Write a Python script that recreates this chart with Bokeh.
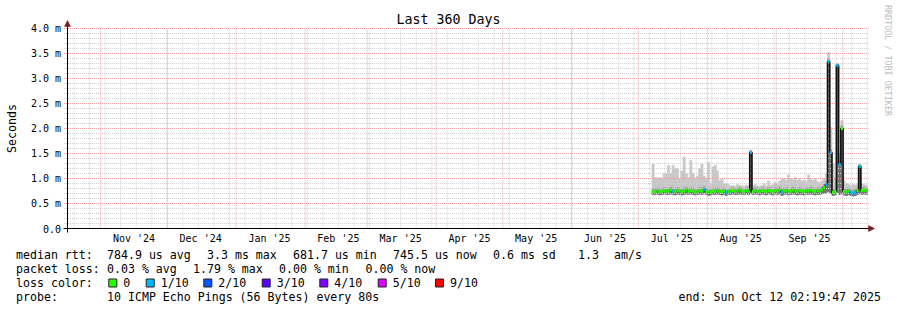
from datetime import datetime, timedelta
from math import pi

from bokeh.plotting import figure
from bokeh.models import Range1d
from bokeh.core.properties import value
from bokeh.embed import file_html
from bokeh.resources import INLINE

# ---------------- data ----------------
END = datetime(2025, 10, 12, 2, 19, 47)
SPAN_DAYS = 360
START = END - timedelta(days=SPAN_DAYS)

title_text = "Last 360 Days"
y_axis_label = "Seconds"
watermark = "RRDTOOL / TOBI OETIKER"

y_ticks = [0.0, 0.5, 1.0, 1.5, 2.0, 2.5, 3.0, 3.5, 4.0]
y_tick_labels = ["0.0", "0.5 m", "1.0 m", "1.5 m", "2.0 m", "2.5 m", "3.0 m", "3.5 m", "4.0 m"]

month_labels = ["Nov '24", "Dec '24", "Jan '25", "Feb '25", "Mar '25", "Apr '25",
                "May '25", "Jun '25", "Jul '25", "Aug '25", "Sep '25"]
month_label_dates = [(2024, 11, 16), (2024, 12, 16), (2025, 1, 16), (2025, 2, 16),
                     (2025, 3, 16), (2025, 4, 16), (2025, 5, 16), (2025, 6, 16),
                     (2025, 7, 16), (2025, 8, 16), (2025, 9, 16)]
month_starts = [(2024, 11, 1), (2024, 12, 1), (2025, 1, 1), (2025, 2, 1), (2025, 3, 1),
                (2025, 4, 1), (2025, 5, 1), (2025, 6, 1), (2025, 7, 1), (2025, 8, 1),
                (2025, 9, 1), (2025, 10, 1)]

# day offset from graph start (one sample per day)
days = list(range(263, 360))
median_ms = [0.74, 0.74, 0.75, 0.73, 0.74, 0.76, 0.75, 0.74, 0.77, 0.75,
             0.74, 0.76, 0.75, 0.73, 0.75, 0.77, 0.74, 0.76, 0.75, 0.73,
             0.74, 0.76, 0.75, 0.78, 0.74, 0.72, 0.73, 0.75, 0.74, 0.76,
             0.74, 0.73, 0.75, 0.72, 0.74, 0.75, 0.76, 0.74, 0.75, 0.77,
             0.75, 0.74, 0.76, 0.75, 1.52, 0.74, 0.76, 0.75, 0.74, 0.76,
             0.75, 0.74, 0.76, 0.75, 0.74, 0.76, 0.75, 0.77, 0.73, 0.75,
             0.76, 0.74, 0.75, 0.77, 0.75, 0.74, 0.76, 0.75, 0.74, 0.76,
             0.75, 0.77, 0.75, 0.74, 0.76, 0.75, 0.78, 0.82, 0.88, 3.34,
             1.52, 0.72, 0.74, 3.26, 1.28, 2.00, 0.74, 0.73, 0.75, 0.72,
             0.71, 0.72, 0.76, 1.24, 0.76, 0.77, 0.76]
smoke_max_ms = [1.29, 1.02, 1.00, 1.02, 1.00, 1.10, 1.10, 1.26, 1.10, 1.26,
                1.20, 1.20, 1.00, 1.15, 1.43, 1.10, 1.02, 1.36, 1.10, 1.00,
                1.05, 1.20, 1.29, 1.05, 1.00, 1.32, 0.90, 1.23, 1.26, 1.15,
                0.95, 0.98, 0.90, 0.90, 0.88, 0.85, 0.86, 0.84, 0.88, 0.86,
                0.85, 0.84, 0.87, 0.86, 1.56, 0.86, 0.88, 0.85, 0.84, 0.86,
                0.90, 0.85, 0.95, 0.86, 0.88, 0.92, 0.90, 0.95, 0.98, 1.00,
                0.96, 1.07, 1.00, 0.97, 1.02, 0.96, 1.00, 0.95, 0.97, 0.94,
                1.07, 0.98, 0.96, 1.00, 0.94, 0.92, 0.95, 1.00, 1.10, 3.52,
                2.02, 1.30, 1.00, 3.30, 1.50, 2.16, 0.95, 0.90, 0.88, 0.86,
                0.88, 0.87, 0.90, 1.28, 0.90, 0.88, 0.86]
smoke_min_ms = [0.68, 0.68, 0.69, 0.67, 0.68, 0.69, 0.68, 0.68, 0.69, 0.68,
                0.67, 0.69, 0.68, 0.67, 0.68, 0.69, 0.68, 0.69, 0.68, 0.67,
                0.68, 0.69, 0.68, 0.70, 0.68, 0.66, 0.67, 0.68, 0.68, 0.69,
                0.68, 0.67, 0.68, 0.66, 0.68, 0.68, 0.69, 0.68, 0.68, 0.69,
                0.68, 0.68, 0.69, 0.68, 0.70, 0.68, 0.69, 0.68, 0.67, 0.69,
                0.68, 0.67, 0.69, 0.68, 0.67, 0.69, 0.68, 0.69, 0.66, 0.68,
                0.69, 0.67, 0.68, 0.69, 0.68, 0.67, 0.68, 0.68, 0.67, 0.69,
                0.68, 0.69, 0.68, 0.67, 0.68, 0.68, 0.69, 0.70, 0.72, 0.74,
                0.70, 0.66, 0.67, 0.72, 0.68, 0.70, 0.67, 0.66, 0.68, 0.66,
                0.65, 0.66, 0.68, 0.70, 0.68, 0.69, 0.68]
loss_tenths = [0, 0, 0, 0, 0, 0, 0, 0, 0, 1,
               0, 0, 0, 0, 0, 0, 0, 0, 0, 0,
               0, 0, 0, 1, 0, 0, 0, 0, 0, 0,
               0, 0, 0, 1, 0, 0, 0, 0, 0, 0,
               0, 0, 0, 0, 1, 0, 0, 0, 0, 0,
               0, 0, 0, 0, 0, 0, 0, 0, 1, 0,
               0, 0, 0, 0, 0, 0, 0, 0, 0, 0,
               0, 0, 0, 0, 0, 0, 0, 0, 1, 1,
               1, 0, 0, 1, 1, 0, 0, 0, 0, 1,
               1, 1, 0, 1, 0, 0, 0]

loss_levels = [0, 1, 2, 3, 4, 5, 9]
loss_level_labels = ["0", "1/10", "2/10", "3/10", "4/10", "5/10", "9/10"]
loss_colors = ["#26ff00", "#00b8ff", "#0059ff", "#5e00ff", "#7e00ff", "#dd00ff", "#ff0000"]

row1 = ["median rtt:", "784.9 us avg", "3.3 ms max", "681.7 us min", "745.5 us now",
        "0.6 ms sd", "1.3", "am/s"]
row2 = ["packet loss:", "0.03 % avg", "1.79 % max", "0.00 % min", "0.00 % now"]
row3_head = "loss color:"
row4 = ["probe:", "10 ICMP Echo Pings (56 Bytes) every 80s"]
end_text = "end: Sun Oct 12 02:19:47 2025"

# ---------------- layout helpers ----------------
W, H = 897, 310
FL, FR, FT, FB = 67, 867, 28, 228   # chart area edges in pixels (rrdtool style)
Y_MAX = 4.0
MONO = value("DejaVu Sans Mono")


def doff(y, m, d):
    return (datetime(y, m, d) - START).total_seconds() / 86400.0


def dx(px):
    return (px - FL) * SPAN_DAYS / (FR - FL)


def dy(py):
    return (FB - py) * Y_MAX / (FB - FT)


# one figure whose frame covers the whole canvas; data units are days / ms
p = figure(width=W, height=H,
           x_range=Range1d(dx(0), dx(W)), y_range=Range1d(dy(H), dy(0)),
           output_backend="svg", toolbar_location=None,
           x_axis_type=None, y_axis_type=None,
           min_border_left=0, min_border_right=0, min_border_top=0, min_border_bottom=0)
p.outline_line_color = None
p.background_fill_color = "white"
p.border_fill_color = "white"

# ---------------- smoke ----------------
lefts = days
rights = [d + 1 for d in days]
p.quad(left=lefts, right=rights, bottom=smoke_min_ms, top=smoke_max_ms,
       fill_color="#c8c8c8", line_color="#c8c8c8", line_width=0.6)
mid_top = [min(mx, md + 0.06) for mx, md in zip(smoke_max_ms, median_ms)]
p.quad(left=lefts, right=rights, bottom=median_ms, top=mid_top,
       fill_color="#a6a6a6", line_color="#a6a6a6", line_width=0.6)
p.quad(left=lefts, right=rights, bottom=smoke_min_ms, top=median_ms,
       fill_color="#737373", line_color="#737373", line_width=0.6)

# ---------------- grid (dotted, over the smoke like rrdtool) ----------------
major_x = [doff(*d) for d in month_starts]
first_sunday = START + timedelta(days=(6 - START.weekday()) % 7)
first_sunday = datetime(first_sunday.year, first_sunday.month, first_sunday.day)
minor_x = []
t = first_sunday
while t < END:
    minor_x.append((t - START).total_seconds() / 86400.0)
    t += timedelta(days=7)
minor_y = [i / 10 for i in range(1, 41) if i % 5 != 0]
major_y = [v for v in y_ticks if v > 0]

MAJ_COL = "#eda3a3"
MIN_COL = "#d0d0d0"
GX0, GX1 = dx(63.5), dx(868)
p.segment(x0=minor_x, x1=minor_x, y0=[0] * len(minor_x), y1=[Y_MAX] * len(minor_x),
          line_color=MIN_COL, line_dash="1 1", line_width=1)
p.segment(x0=[GX0] * len(minor_y), x1=[GX1] * len(minor_y), y0=minor_y, y1=minor_y,
          line_color=MIN_COL, line_dash="1 1", line_width=1)
p.segment(x0=major_x, x1=major_x, y0=[0] * len(major_x), y1=[Y_MAX] * len(major_x),
          line_color=MAJ_COL, line_dash="1 1", line_width=1)
p.segment(x0=[GX0] * len(major_y), x1=[GX1] * len(major_y), y0=major_y, y1=major_y,
          line_color=MAJ_COL, line_dash="1 1", line_width=1)

# ---------------- median ----------------
step_x = days + [days[-1] + 1]
step_y = median_ms + [median_ms[-1]]
p.step(step_x, step_y, mode="after", line_color="#111111", line_width=1.6)
seg_colors = [loss_colors[loss_levels.index(l)] for l in loss_tenths]
p.segment(x0=lefts, x1=rights, y0=median_ms, y1=median_ms,
          line_color=seg_colors, line_width=3)

# ---------------- axes: lines, arrow heads, tick labels ----------------
ARROW_COL = "#7f1a1a"
p.segment(x0=[0, dx(63)], x1=[0, dx(869)], y0=[dy(232), 0], y1=[dy(25), 0],
          line_color="black", line_width=1)
p.segment(x0=[dx(63.5)], x1=[0], y0=[0], y1=[0], line_color="black", line_width=1)
p.patches(xs=[[dx(64), dx(70), dx(67)], [dx(868), dx(868), dx(874)]],
          ys=[[dy(26), dy(26), dy(20)], [dy(225), dy(231), dy(228)]],
          fill_color=ARROW_COL, line_color=ARROW_COL, line_width=0.5)

p.text(x=[dx(60.5)] * len(y_ticks), y=y_ticks, text=y_tick_labels, text_font=MONO,
       text_font_size="10px", text_align="right", text_baseline="middle",
       text_color="black")
x_label_pos = [doff(*d) for d in month_label_dates]
p.text(x=x_label_pos, y=[dy(238)] * len(x_label_pos), text=month_labels, text_font=MONO,
       text_font_size="10px", text_align="center", text_baseline="middle",
       text_color="black")
p.text(x=[dx(11)], y=[Y_MAX / 2], text=[y_axis_label], text_font=MONO,
       text_font_size="11.6px", text_align="center", text_baseline="middle",
       text_color="black", angle=pi / 2)

# ---------------- title and watermark ----------------
p.text(x=[dx(448)], y=[dy(19)], text=[title_text], text_font=MONO,
       text_font_size="13.3px", text_align="center", text_baseline="middle",
       text_color="black")
p.text(x=[dx(887.5)], y=[dy(60)], text=[watermark], text_font=MONO,
       text_font_size="8.4px", text_align="center", text_baseline="middle",
       text_color="#bdbdbd", angle=-pi / 2)

# ---------------- legend (page pixel positions converted to data units) ----------------
row1_x = [15.5, 106.5, 206.5, 292.5, 392.5, 492.5, 577.5, 613.5]
row2_x = [15.5, 106.5, 192.5, 278.5, 365.0]
box_x = [108.3, 145.7, 203.3, 261.7, 319.3, 377.7, 435.0]
row4_x = [15.5, 106.5]

txt, tx, ty = [], [], []
for s, x in zip(row1, row1_x):
    txt.append(s); tx.append(dx(x)); ty.append(dy(254))
for s, x in zip(row2, row2_x):
    txt.append(s); tx.append(dx(x)); ty.append(dy(268))
txt.append(row3_head); tx.append(dx(15.5)); ty.append(dy(282))
for s, x in zip(loss_level_labels, box_x):
    txt.append(s); tx.append(dx(x + 14.5)); ty.append(dy(282))
for s, x in zip(row4, row4_x):
    txt.append(s); tx.append(dx(x)); ty.append(dy(296))
p.text(x=tx, y=ty, text=txt, text_font=MONO, text_font_size="11.6px",
       text_align="left", text_baseline="middle", text_color="black")
p.text(x=[dx(880.5)], y=[dy(296)], text=[end_text], text_font=MONO,
       text_font_size="11.6px", text_align="right", text_baseline="middle",
       text_color="black")
p.quad(left=[dx(b) for b in box_x], right=[dx(b + 8) for b in box_x],
       top=[dy(278.5)] * len(box_x), bottom=[dy(286.5)] * len(box_x),
       fill_color=loss_colors, line_color="#222222", line_width=1)

open("out.html", "w").write(file_html(p, INLINE))
